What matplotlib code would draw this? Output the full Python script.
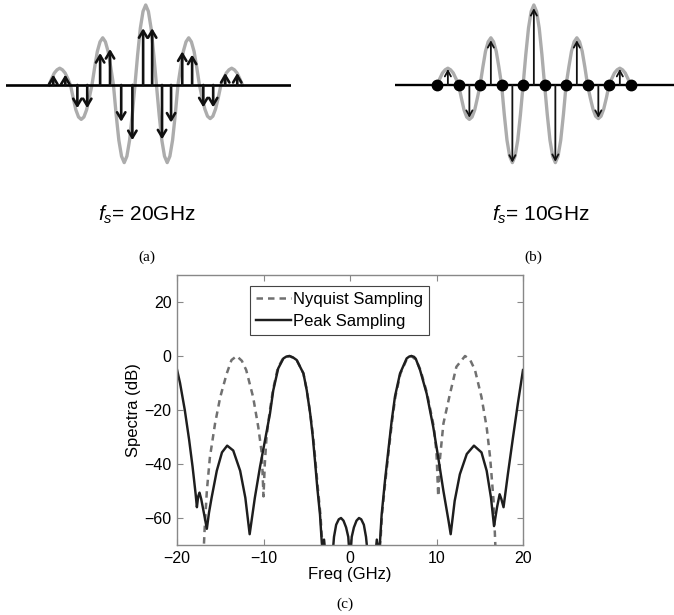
import matplotlib
matplotlib.use('Agg')
import matplotlib.pyplot as plt

W, H, DPI = 674, 615, 100

# ---------------- data ----------------
# gray carrier waveform shared by panels (a) and (b): time (ps), normalized amplitude
wave_t = [-225, -218.75, -212.5, -206.25, -200, -193.75, -187.5, -181.25,
          -175, -168.75, -162.5, -156.25, -150, -143.75, -137.5, -131.25,
          -125, -118.75, -112.5, -106.25, -100, -93.75, -87.5, -81.25,
          -75, -68.75, -62.5, -56.25, -50, -43.75, -37.5, -31.25,
          -25, -18.75, -12.5, -6.25, 0, 6.25, 12.5, 18.75,
          25, 31.25, 37.5, 43.75, 50, 56.25, 62.5, 68.75,
          75, 81.25, 87.5, 93.75, 100, 106.25, 112.5, 118.75,
          125, 131.25, 137.5, 143.75, 150, 156.25, 162.5, 168.75,
          175, 181.25, 187.5, 193.75, 200, 206.25, 212.5, 218.75, 225]
wave_y = [0, 0.08, 0.15, 0.19, 0.21, 0.19, 0.15, 0.08,
          0, -0.16, -0.31, -0.40, -0.43, -0.40, -0.31, -0.16,
          0, 0.22, 0.42, 0.54, 0.59, 0.54, 0.42, 0.22,
          0, -0.37, -0.69, -0.89, -0.97, -0.89, -0.69, -0.37,
          0, 0.38, 0.71, 0.92, 1.00, 0.92, 0.71, 0.38,
          0, -0.37, -0.69, -0.89, -0.97, -0.89, -0.69, -0.37,
          0, 0.22, 0.42, 0.54, 0.59, 0.54, 0.42, 0.22,
          0, -0.16, -0.30, -0.39, -0.42, -0.39, -0.30, -0.16,
          0, 0.08, 0.15, 0.19, 0.21, 0.19, 0.15, 0.08, 0]

# (a) Nyquist samples, fs = 20 GHz
samp_a_t = [-215, -187, -159, -136, -106, -83, -57, -31, -6,
            15, 38, 59, 85, 108, 134, 157, 185, 213]
samp_a_y = [0.13, 0.13, -0.29, -0.29, 0.40, 0.45, -0.46, -0.69, 0.71,
            0.71, -0.68, -0.47, 0.42, 0.38, -0.28, -0.28, 0.15, 0.15]

# (b) peak samples, fs = 10 GHz, and zero-valued samples
samp_b_t = [-200, -150, -100, -50, 0, 50, 100, 150, 200]
samp_b_y = [0.20, -0.41, 0.56, -0.97, 0.96, -0.96, 0.56, -0.41, 0.20]
zero_b_t = [-225, -175, -125, -75, -25, 25, 75, 125, 175, 225]
zero_b_y = [0, 0, 0, 0, 0, 0, 0, 0, 0, 0]

# (c) spectra
peak_f = [-20.0, -19.65, -19.1, -18.6, -18.2, -17.85, -17.7, -17.55, -17.4, -17.2,
          -16.9, -16.55, -16.3, -16.0, -15.4, -14.8, -14.2, -13.5, -12.7, -12.1,
          -11.6, -11.0, -10.4, -9.83, -9.25, -8.87, -8.3, -7.7, -7.35, -7.0,
          -6.6, -6.16, -5.38, -5.0, -4.6, -4.3, -4.05, -3.78, -3.47, -3.27,
          -3.15, -3.0, -2.85, -2.05, -1.85, -1.6, -1.3, -1.04, -0.75, -0.45,
          -0.2, 0.0, 0.2, 0.45, 0.75, 1.04, 1.3, 1.6, 1.85, 2.1,
          2.95, 3.1, 3.25, 3.47, 3.66, 4.05, 4.43, 4.82, 5.2, 5.78,
          6.55, 6.85, 7.1, 7.4, 7.6, 8.1, 8.87, 9.63, 10.2, 10.8,
          11.4, 11.64, 12.1, 12.7, 13.5, 14.33, 15.2, 15.8, 16.3, 16.65,
          17.0, 17.3, 17.5, 17.75, 18.25, 18.85, 19.4, 20.0]
peak_db = [-5.0, -10.0, -20.0, -31.0, -41.0, -51.0, -56.0, -52.0, -50.6, -53.0,
           -58.0, -64.0, -58.0, -52.5, -42.5, -35.7, -33.2, -35.0, -42.5, -52.5,
           -66.0, -52.5, -41.0, -31.3, -21.3, -12.7, -4.6, -0.9, -0.2, 0.0,
           -0.5, -1.5, -6.5, -12.7, -21.4, -30.0, -38.8, -48.8, -58.7, -68.7,
           -73.0, -68.0, -73.0, -75.0, -67.0, -62.5, -60.5, -60.0, -61.0, -63.5,
           -67.0, -76.0, -67.0, -63.5, -61.0, -60.0, -60.5, -62.5, -67.0, -75.0,
           -73.0, -68.0, -73.0, -68.7, -58.7, -46.0, -35.0, -24.0, -15.0, -6.5,
           -0.9, -0.2, 0.0, -0.3, -1.0, -5.2, -14.0, -26.4, -37.6, -50.0,
           -61.2, -66.0, -53.7, -43.8, -36.3, -33.2, -35.7, -42.5, -52.5, -63.0,
           -56.0, -51.2, -53.0, -56.0, -43.8, -30.0, -17.7, -5.2]

nyq_f = [-17.0, -16.8, -16.55, -16.2, -15.6, -15.0, -14.25, -13.7, -13.1, -12.5,
         -12.0, -11.2, -10.6, -10.2, -10.0, -9.85, -9.65, -9.3, -8.9, -8.35,
         -7.75, -7.0, -6.2, -5.4, -5.0, -4.6, -4.25, -4.0, -3.72, -3.42,
         -3.22, -3.1, 0.0, 3.3, 3.52, 3.7, 4.1, 4.48, 4.87, 5.25,
         5.83, 6.6, 7.1, 7.65, 8.15, 8.92, 9.7, 10.0, 10.2, 10.4,
         10.8, 11.56, 12.3, 13.3, 13.9, 14.45, 15.2, 15.8, 16.2, 16.6,
         16.8, 16.95]
nyq_db = [-78, -63.7, -50, -37.6, -25, -15.2, -6.5, -1.5, 0, -1.8,
          -5.2, -15.2, -26.4, -36, -52, -40, -30, -21, -12.5, -4.5,
          -0.9, 0, -1.3, -6.3, -12.5, -21.2, -30, -38.8, -48.8, -58.7,
          -68.7, -76, -90, -76, -68.7, -58.7, -46, -35, -24, -15,
          -6.5, -0.9, 0, -1.5, -5.2, -14, -26.4, -36, -52, -38,
          -25, -14, -4, 0, -1.5, -5.2, -15.2, -26.4, -37.6, -53.7,
          -70, -78]

x_ticks = [-20, -10, 0, 10, 20]
y_ticks = [-60, -40, -20, 0, 20]
legend_labels = ['Nyquist Sampling', 'Peak Sampling']

# ---------------- figure ----------------
plt.rcParams['font.family'] = ['Liberation Sans', 'DejaVu Sans']
plt.rcParams['mathtext.fontset'] = 'custom'
plt.rcParams['mathtext.it'] = 'Liberation Sans:italic'
plt.rcParams['mathtext.rm'] = 'Liberation Sans'
plt.rcParams['mathtext.sf'] = 'Liberation Sans'

fig = plt.figure(figsize=(W / DPI, H / DPI), dpi=DPI)


def rect(x0, y0, x1, y1):
    """pixel box (top-left origin) -> figure fraction rect"""
    return [x0 / W, 1 - y1 / H, (x1 - x0) / W, (y1 - y0) / H]


def fx(px):
    return px / W


def fy(py):
    return 1 - py / H


GRAY = '#acacac'

# panel (a)
axa = fig.add_axes(rect(6, 0, 291, 170))
axa.set_xlim(-325, 338)
axa.set_ylim(-1.0625, 1.0625)
axa.axis('off')
axa.plot(wave_t, wave_y, color=GRAY, lw=2.4, zorder=1)
axa.axhline(0, color='black', lw=1.9, zorder=2)
for t, v in zip(samp_a_t, samp_a_y):
    axa.annotate('', xy=(t, v), xytext=(t, 0),
                 arrowprops=dict(arrowstyle='->,head_length=0.5,head_width=0.3',
                                 lw=1.9, color='#111111', shrinkA=0, shrinkB=0,
                                 mutation_scale=10),
                 zorder=3)

# panel (b)
axb = fig.add_axes(rect(395, 0, 674, 170))
axb.set_xlim(-323, 326)
axb.set_ylim(-1.0625, 1.0625)
axb.axis('off')
axb.plot(wave_t, wave_y, color=GRAY, lw=2.4, zorder=1)
axb.axhline(0, color='black', lw=1.7, zorder=2)
for t, v in zip(samp_b_t, samp_b_y):
    axb.annotate('', xy=(t, v), xytext=(t, 0),
                 arrowprops=dict(arrowstyle='->,head_length=0.4,head_width=0.22',
                                 lw=1.3, color='#111111', shrinkA=0, shrinkB=0,
                                 mutation_scale=10),
                 zorder=3)
axb.plot(zero_b_t, zero_b_y, 'o', color='black', ms=7.5, zorder=4)

# labels of top panels
fig.text(fx(147), fy(215), r'$f_s$= 20GHz', fontsize=15, ha='center', va='center')
fig.text(fx(541), fy(215), r'$f_s$= 10GHz', fontsize=15, ha='center', va='center')
fig.text(fx(147), fy(257), '(a)', fontsize=11, ha='center', va='center',
         family=['Liberation Serif', 'DejaVu Serif'])
fig.text(fx(533), fy(257), '(b)', fontsize=11, ha='center', va='center',
         family=['Liberation Serif', 'DejaVu Serif'])
fig.text(fx(345), fy(604), '(c)', fontsize=11, ha='center', va='center',
         family=['Liberation Serif', 'DejaVu Serif'])

# panel (c)
axc = fig.add_axes(rect(177, 275, 523, 545))
ln_nyq, = axc.plot(nyq_f, nyq_db, color='#707070', lw=1.8,
                   linestyle=(0, (2.6, 2.0)), label=legend_labels[0])
ln_pk, = axc.plot(peak_f, peak_db, color='#1e1e1e', lw=1.75, label=legend_labels[1])
axc.set_xlim(-20, 20)
axc.set_ylim(-70, 30)
axc.set_xticks(x_ticks)
axc.set_yticks(y_ticks)
axc.tick_params(direction='in', top=True, right=True, length=4, width=0.8,
                color='#888888', labelsize=11.5, pad=4)
for s in axc.spines.values():
    s.set_color('#888888')
    s.set_linewidth(1.0)
axc.set_xlabel('Freq (GHz)', fontsize=12, labelpad=1)
axc.set_ylabel('Spectra (dB)', fontsize=12, labelpad=2)
leg = axc.legend(handles=[ln_nyq, ln_pk], loc='upper left',
                 bbox_to_anchor=((250 - 177) / 346, (545 - 286) / 270),
                 fontsize=12, frameon=True, fancybox=False, framealpha=1,
                 edgecolor='#444444', handlelength=2.1, handletextpad=0.15,
                 borderpad=0.35, labelspacing=0.42, borderaxespad=0)
leg.get_frame().set_linewidth(0.8)

fig.savefig('out.png', dpi=DPI)
